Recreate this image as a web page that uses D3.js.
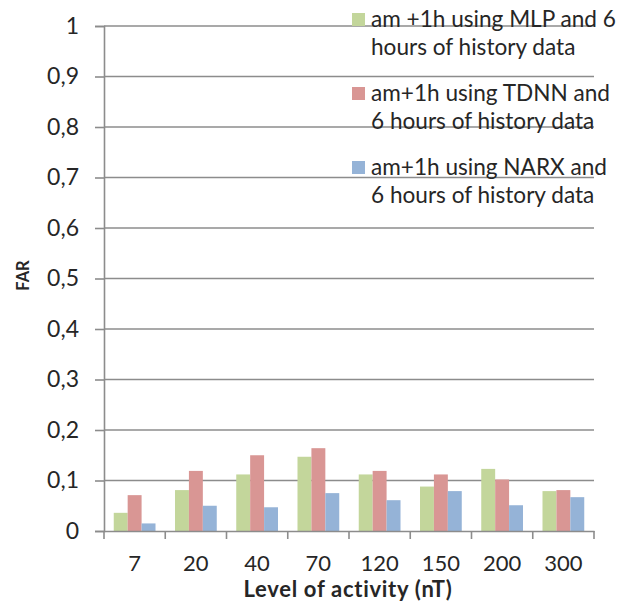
<!DOCTYPE html>
<html><head><meta charset="utf-8">
<script src="https://cdn.jsdelivr.net/npm/d3@7"></script>
<style>body{margin:0;background:#fff;}</style>
</head><body>
<svg id="c" width="633" height="605"></svg>
<script>
const categories = ["7","20","40","70","120","150","200","300"];
const seriesNames = [
  ["am +1h using MLP and 6","hours of history data"],
  ["am+1h using TDNN and","6 hours of history data"],
  ["am+1h using NARX and","6 hours of history data"]
];
const mlp  = [0.036,0.081,0.112,0.147,0.112,0.088,0.123,0.079];
const tdnn = [0.071,0.119,0.150,0.164,0.119,0.112,0.102,0.081];
const narx = [0.015,0.050,0.047,0.075,0.061,0.079,0.051,0.067];
const yTicks = [0,0.1,0.2,0.3,0.4,0.5,0.6,0.7,0.8,0.9,1];
const colors = ["#c3d69b","#d99694","#95b3d7"];

const font = "Lato, Calibri, sans-serif";
const txt = "#262626";
const gridCol = "#8c8c8c";
const svg = d3.select("#c");
const L = 104, R = 594, T = 26, B = 531;
const x = d3.scaleBand().domain(categories).range([L,R]).paddingInner(0).paddingOuter(0);
const x1 = d3.scaleBand().domain([0,1,2]).range([0,x.bandwidth()]).paddingOuter(0.7).paddingInner(0);
const y = d3.scaleLinear().domain([0,1]).range([B,T]);

// gridlines
svg.append("g").selectAll("line").data(yTicks.slice(1)).join("line")
  .attr("x1",L).attr("x2",R).attr("y1",d=>y(d)).attr("y2",d=>y(d))
  .attr("stroke",gridCol).attr("stroke-width",1.6);

// bars
const series = [mlp,tdnn,narx];
const g = svg.append("g");
categories.forEach((c,i)=>{
  series.forEach((s,j)=>{
    g.append("rect").attr("x",x(c)+x1(j)).attr("width",x1.bandwidth())
      .attr("y",y(s[i])).attr("height",y(0)-y(s[i])).attr("fill",colors[j]);
  });
});

// y axis
const ya = d3.axisLeft(y).tickValues(yTicks).tickSize(9).tickPadding(16)
  .tickFormat(d=>d===0?"0":(d===1?"1":d3.format(".1f")(d).replace(".",",")));
const yg = svg.append("g").attr("transform",`translate(${L},0)`).call(ya);
yg.select(".domain").attr("stroke",gridCol).attr("stroke-width",1.6);
yg.selectAll(".tick line").attr("stroke",gridCol).attr("stroke-width",1.6);
yg.selectAll("text").attr("font-family",font).attr("font-size",23).attr("fill",txt);

// x axis
const xa = d3.axisBottom(x).tickSize(0).tickPadding(24);
const xg = svg.append("g").attr("transform",`translate(0,${B})`).call(xa);
xg.select(".domain").attr("stroke",gridCol).attr("stroke-width",1.6);
xg.selectAll("text").attr("font-family",font).attr("font-size",22).attr("fill",txt);
// category boundary ticks
xg.append("g").selectAll("line").data(d3.range(categories.length+1)).join("line")
  .attr("x1",i=>L+i*x.bandwidth()).attr("x2",i=>L+i*x.bandwidth())
  .attr("y1",0).attr("y2",8).attr("stroke",gridCol).attr("stroke-width",1.6);

// axis titles
svg.append("text").attr("x",(L+R)/2 - 1).attr("y",597).attr("text-anchor","middle")
  .attr("font-family",font).attr("font-weight","bold").attr("font-size",22)
  .attr("letter-spacing","0.7px").attr("fill",txt)
  .text("Level of activity (nT)");
svg.append("text").attr("transform",`translate(29,${(T+B)/2 - 3}) rotate(-90)`).attr("text-anchor","middle")
  .attr("font-family",font).attr("font-weight","bold").attr("font-size",16.5).attr("fill",txt)
  .text("FAR");

// legend
const lg = svg.append("g");
seriesNames.forEach((lines,j)=>{
  const base = 27 + j*74;
  lg.append("rect").attr("x",352).attr("y",base-14).attr("width",13).attr("height",13).attr("fill",colors[j]);
  lines.forEach((t,k)=>{
    lg.append("text").attr("x",371).attr("y",base+k*27.5)
      .attr("font-family",font).attr("font-size",22.6).attr("fill",txt).text(t);
  });
});
</script>
</body></html>
